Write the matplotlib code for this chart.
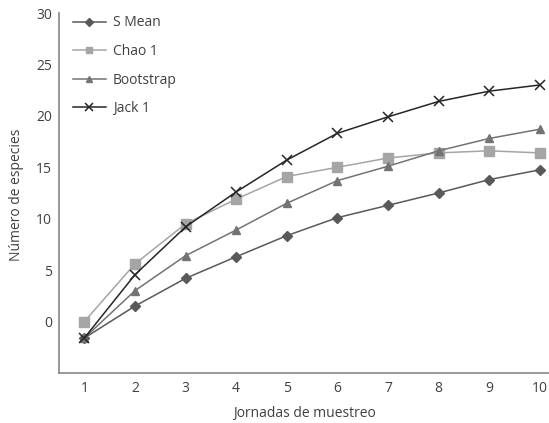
import numpy as np
import matplotlib.pyplot as plt

plt.rcParams['font.family'] = ['Open Sans', 'DejaVu Sans']

# datos
jornadas = [1, 2, 3, 4, 5, 6, 7, 8, 9, 10]
s_mean = [-1.6, 1.5, 4.2, 6.3, 8.35, 10.1, 11.3, 12.5, 13.8, 14.75]
chao1 = [0.0, 5.6, 9.5, 11.9, 14.1, 15.0, 15.9, 16.4, 16.6, 16.4]
bootstrap = [-1.6, 3.0, 6.4, 8.9, 11.5, 13.7, 15.1, 16.6, 17.8, 18.7]
jack1 = [-1.6, 4.55, 9.2, 12.6, 15.7, 18.3, 19.9, 21.4, 22.4, 23.0]
yticks = [0, 5, 10, 15, 20, 25, 30]

fig = plt.figure(figsize=(5.49, 4.23), dpi=100)
ax = fig.add_axes([59/549, 1-373/423, (565-59)/549, (373-13)/423])

ax.plot(jornadas, s_mean, color='#595959', marker='D', markersize=5.5, lw=1.1, label='S Mean')
ax.plot(jornadas, chao1, color='#a5a5a5', marker='s', markersize=6.5, lw=1.1, label='Chao 1')
ax.plot(jornadas, bootstrap, color='#737373', marker='^', markersize=6, lw=1.1, label='Bootstrap')
ax.plot(jornadas, jack1, color='#262626', marker='x', markersize=7, mew=1.1, lw=1.1, label='Jack 1')

ax.set_xlim(0.5, 10.5)
ax.set_ylim(-5, 30)
ax.set_xticks(jornadas)
ax.set_yticks(yticks)
ax.tick_params(length=0, labelsize=10, colors='#404040')
ax.tick_params(axis='x', pad=6)
ax.tick_params(axis='y', pad=5)
for s in ['top', 'right']:
    ax.spines[s].set_visible(False)
for s in ['left', 'bottom']:
    ax.spines[s].set_color('#868686')
    ax.spines[s].set_linewidth(1.2)

fig.text(0.5 * (59 + 549) / 549, 1 - 413/423, 'Jornadas de muestreo', ha='center', va='center',
         fontsize=10, color='#404040')
fig.text(17/549, 1 - 195/423, 'Número de especies', rotation=90, ha='center', va='center',
         fontsize=10, color='#404040')

leg = ax.legend(loc='upper left', bbox_to_anchor=(60/549, 1 - 3/423), bbox_transform=fig.transFigure,
                frameon=False, fontsize=10, handlelength=2.4, labelspacing=0.98, handletextpad=0.5,
                markerscale=0.75)
for t in leg.get_texts():
    t.set_color('#404040')

plt.savefig('out.png', dpi=100)
